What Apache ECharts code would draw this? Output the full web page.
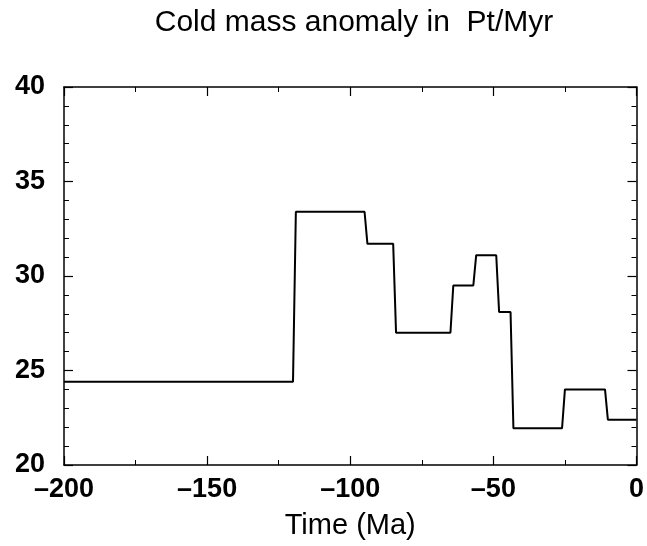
<html>
<head>
<meta charset="UTF-8">
<title>Cold mass anomaly</title>
<script src="https://cdn.jsdelivr.net/npm/echarts@6/dist/echarts.min.js"></script>
<style>
  html, body { margin: 0; padding: 0; background: #fff; }
  #main { width: 647px; height: 546px; }
</style>
</head>
<body>
<div id="main"></div>
<script type="text/javascript">
  // time (Ma) and anomaly (Pt/Myr)
  var times  = [-200, -120, -119, -95, -94, -85, -84, -65, -64, -57, -56, -49, -48, -44, -43, -26, -25, -11, -10, 0];
  var values = [24.4, 24.4, 33.4, 33.4, 31.7, 31.7, 27.0, 27.0, 29.5, 29.5, 31.1, 31.1, 28.1, 28.1, 21.95, 21.95, 24.0, 24.0, 22.4, 22.4];
  var xTicks = [-200, -150, -100, -50, 0];
  var yTicks = [20, 25, 30, 35, 40];

  var pts = [];
  for (var i = 0; i < times.length; i++) pts.push([times[i], values[i]]);

  var font = 'Liberation Sans, Arial, Helvetica, sans-serif';

  function xLabel(v) {
    return v < 0 ? '\u2013' + Math.abs(v) : String(v);
  }

  // one axis of the box frame; labels only on bottom / left
  function frameAxis(pos, isX) {
    var a = {
      type: 'value', position: pos,
      min: isX ? -200 : 20, max: isX ? 0 : 40, interval: isX ? 50 : 5,
      axisLine: { show: true, onZero: false, lineStyle: { color: '#000', width: 1.5 } },
      axisTick: { show: true, inside: true, length: 9, lineStyle: { color: '#000', width: 1.2 } },
      minorTick: { show: true, splitNumber: isX ? 2 : 5, length: 5, lineStyle: { color: '#000', width: 1 } },
      splitLine: { show: false },
      axisLabel: { show: false }
    };
    if (pos === 'bottom') {
      a.name = 'Time (Ma)';
      a.nameLocation = 'middle';
      a.nameGap = 46;
      a.nameTextStyle = { fontFamily: font, fontSize: 29, color: '#000' };
      a.axisLabel = { show: true, fontFamily: font, fontSize: 27, fontWeight: 'bold', color: '#000', margin: 11,
        formatter: function (v) { return xTicks.indexOf(v) >= 0 ? xLabel(v) : ''; } };
    }
    if (pos === 'left') {
      a.axisLabel = { show: true, fontFamily: font, fontSize: 27, fontWeight: 'bold', color: '#000', margin: 19,
        formatter: function (v) { return yTicks.indexOf(v) >= 0 ? String(v) : ''; } };
    }
    return a;
  }

  var myChart = echarts.init(document.getElementById('main'));
  var option = {
    backgroundColor: '#fff',
    animation: false,
    title: {
      text: 'Cold mass anomaly in  Pt/Myr',
      left: 349, top: 3, textAlign: 'center',
      textStyle: { fontFamily: font, fontSize: 30, fontWeight: 'normal', color: '#000' }
    },
    grid: { left: 64, right: 7, top: 87, bottom: 81 },
    xAxis: [frameAxis('bottom', true), frameAxis('top', true)],
    yAxis: [frameAxis('left', false), frameAxis('right', false)],
    series: [{
      type: 'line',
      data: pts,
      showSymbol: false,
      lineStyle: { color: '#000', width: 2 }
    }]
  };
  myChart.setOption(option);
</script>
</body>
</html>
